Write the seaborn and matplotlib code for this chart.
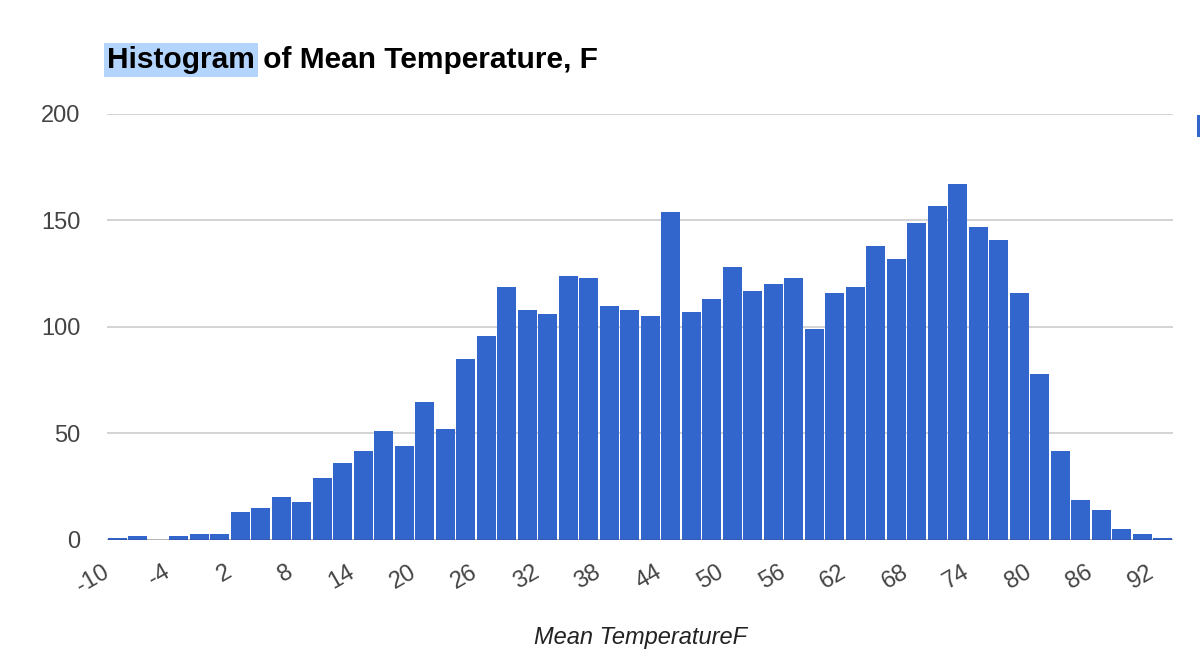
import numpy as np
import pandas as pd
import matplotlib
matplotlib.use("Agg")
import matplotlib.pyplot as plt
import seaborn as sns
from matplotlib.patches import Rectangle

# Histogram data: bins of width 2 starting at -10
bin_start = -10
bin_width = 2
counts = [1, 2, 0, 2, 3, 3, 13, 15, 20, 18,
          29, 36, 42, 51, 44, 65, 52, 85, 96, 119,
          108, 106, 124, 123, 110, 108, 105, 154, 107, 113,
          128, 117, 120, 123, 99, 116, 119, 138, 132, 149,
          157, 167, 147, 141, 116, 78, 42, 19, 14, 5,
          3, 1]
x_ticks = [-10, -4, 2, 8, 14, 20, 26, 32, 38, 44, 50, 56, 62, 68, 74, 80, 86, 92]
y_ticks = [0, 50, 100, 150, 200]

bin_end = bin_start + bin_width * len(counts)
df = pd.DataFrame({"temp": bin_start + bin_width * (np.arange(len(counts)) + 0.5),
                   "count": counts})

sns.set_style("white")
plt.rcParams["font.family"] = ["Liberation Sans", "DejaVu Sans"]

fig = plt.figure(figsize=(12, 6.6), dpi=100)
ax = fig.add_axes([107 / 1200, 120 / 660, 1066 / 1200, 426 / 660])

sns.histplot(data=df, x="temp", weights="count", binwidth=bin_width,
             binrange=(bin_start, bin_end), shrink=0.92, color="#3366cc",
             alpha=1, linewidth=0, ax=ax)

ax.set_xlim(bin_start, bin_end)
ax.set_ylim(0, 200)
ax.set_yticks(y_ticks)
ax.set_xticks(x_ticks)
ax.set_xticklabels([str(t) for t in x_ticks], rotation=30, ha="right",
                   va="center", rotation_mode="anchor")
ax.tick_params(axis="both", length=0, labelsize=17, labelcolor="#444444")
ax.tick_params(axis="y", pad=19)
ax.tick_params(axis="x", pad=22)

ax.grid(axis="y", color="#cccccc", linewidth=1.2)
ax.set_axisbelow(True)
ax.axhline(0, color="#333333", linewidth=1.0, zorder=3)
sns.despine(ax=ax, left=True, bottom=True)

ax.set_ylabel("")
ax.set_xlabel("Mean TemperatureF", fontsize=17, fontstyle="italic",
              color="#222222", labelpad=21)

# title with the highlighted first word
t1 = fig.text(107 / 1200, 1 - 60 / 660, "Histogram", fontsize=21.5, fontweight="bold",
              va="center", ha="left", color="black",
              bbox=dict(boxstyle="square,pad=0.1", facecolor="#b3d4fc", edgecolor="none"))
ax.annotate(" of Mean Temperature, F", xy=(1, 0.5), xycoords=t1, fontsize=21.5,
            fontweight="bold", va="center", ha="left", color="black",
            annotation_clip=False)

# clipped legend marker at the right edge
fig.patches.append(Rectangle((1197 / 1200, 1 - 137 / 660), 3 / 1200, 22 / 660,
                             transform=fig.transFigure, facecolor="#3366cc",
                             edgecolor="none"))

fig.savefig("out.png", dpi=100)
